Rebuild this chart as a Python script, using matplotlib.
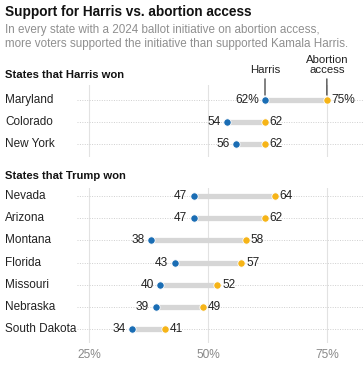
import matplotlib.pyplot as plt
import matplotlib.transforms as mt

harris_states = ["Maryland", "Colorado", "New York"]
harris_harris = [62, 54, 56]
harris_abortion = [75, 62, 62]

trump_states = ["Nevada", "Arizona", "Montana", "Florida", "Missouri", "Nebraska", "South Dakota"]
trump_harris = [47, 47, 38, 43, 40, 39, 34]
trump_abortion = [64, 62, 58, 57, 52, 49, 41]

ticks = [25, 50, 75]
tick_labels = ["25%", "50%", "75%"]

BLUE = "#1a6db4"
GOLD = "#f6b417"
BAR = "#d6d6d6"

plt.rcParams["font.family"] = ["Liberation Sans", "DejaVu Sans"]

W, H = 364, 372
fig = plt.figure(figsize=(W / 100, H / 100), dpi=100)


def px_axes(top, bottom):
    return fig.add_axes([77 / W, 1 - bottom / H, 1 - 77 / W, (bottom - top) / H])


def draw(ax, states, h, a, ylim, pct_first):
    ax.set_xlim(22.5, 82.8)
    ax.set_ylim(*ylim)
    for t in ticks:
        ax.axvline(t, color="#e2e2e2", lw=0.8, zorder=0)
    for i, s in enumerate(states):
        ax.plot([22.5, 82.8], [i, i], color="#cfcfcf", lw=0.7, ls=(0, (1, 1.5)), zorder=0)
        ax.plot([h[i], a[i]], [i, i], color=BAR, lw=3.8, solid_capstyle="butt", zorder=1)
        ax.plot(h[i], i, "o", color=BLUE, ms=5.3, mec="white", mew=0.6, zorder=3)
        ax.plot(a[i], i, "o", color=GOLD, ms=5.3, mec="white", mew=0.6, zorder=3)
        suf = "%" if (pct_first and i == 0) else ""
        ax.annotate(f"{h[i]}{suf}", (h[i], i), xytext=(-4.5, 0), textcoords="offset points",
                    ha="right", va="center", fontsize=8.6, color="#222")
        ax.annotate(f"{a[i]}{suf}", (a[i], i), xytext=(3.5, 0), textcoords="offset points",
                    ha="left", va="center", fontsize=8.6, color="#222")
    # state names sit in the left margin, on the row coordinates
    tr = mt.blended_transform_factory(fig.transFigure, ax.transData)
    for i, s in enumerate(states):
        ax.text(5 / W, i, s, transform=tr, fontsize=8.5, color="#222", va="center", ha="left")
    ax.set_yticks([])
    for sp in ax.spines.values():
        sp.set_visible(False)


ax1 = px_axes(85, 157)
draw(ax1, harris_states, harris_harris, harris_abortion, (2.59, -0.68), True)
ax1.set_xticks([])

ax2 = px_axes(188, 343)
draw(ax2, trump_states, trump_harris, trump_abortion, (6.63, -0.36), False)
ax2.set_xticks(ticks)
ax2.set_xticklabels(tick_labels, fontsize=8.6, color="#888")
ax2.tick_params(axis="x", length=0, pad=4)

# Harris / Abortion access callouts
ax1.annotate("Harris", (harris_harris[0], 0), xytext=(harris_harris[0], -1.15),
             ha="center", va="bottom", fontsize=8.2, color="#222",
             arrowprops=dict(arrowstyle="-", color="#222", lw=0.8, shrinkA=1, shrinkB=3.5),
             annotation_clip=False)
ax1.annotate("Abortion\naccess", (harris_abortion[0], 0), xytext=(harris_abortion[0], -1.15),
             ha="center", va="bottom", fontsize=8.2, color="#222", linespacing=0.95,
             arrowprops=dict(arrowstyle="-", color="#222", lw=0.8, shrinkA=1, shrinkB=3.5),
             annotation_clip=False)

fig.text(5 / W, 1 - 12 / H, "Support for Harris vs. abortion access", fontsize=9.8,
         fontweight="bold", color="#121212", va="center")
fig.text(5 / W, 1 - 30 / H, "In every state with a 2024 ballot initiative on abortion access,",
         fontsize=8.4, color="#8f8f8f", va="center")
fig.text(5 / W, 1 - 44 / H, "more voters supported the initiative than supported Kamala Harris.",
         fontsize=8.4, color="#8f8f8f", va="center")
fig.text(5 / W, 1 - 75 / H, "States that Harris won", fontsize=8.1, fontweight="bold",
         color="#121212", va="center")
fig.text(5 / W, 1 - 176 / H, "States that Trump won", fontsize=8.1, fontweight="bold",
         color="#121212", va="center")

fig.savefig("out.png", dpi=100, facecolor="white")
